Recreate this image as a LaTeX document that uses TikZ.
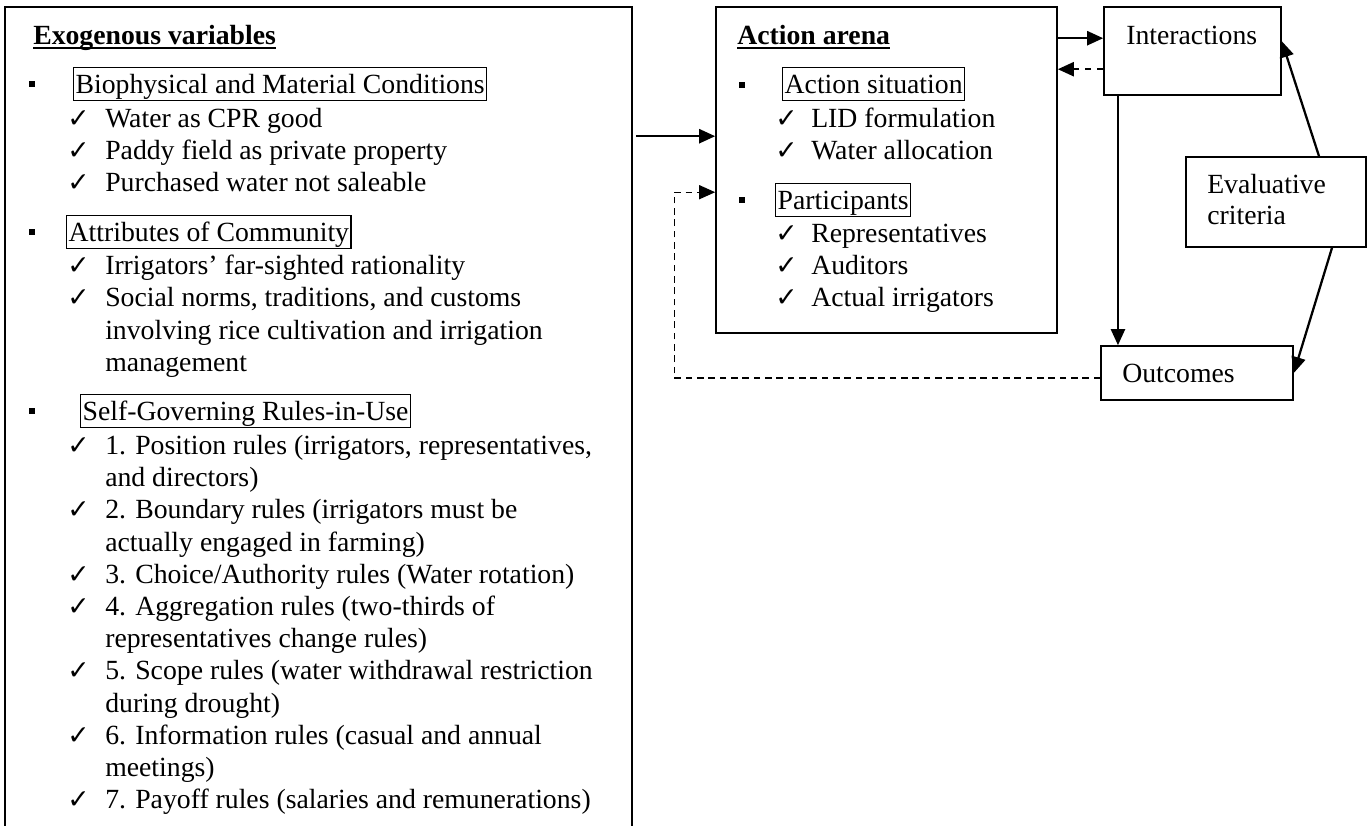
\documentclass[tikz,border=0pt]{standalone}
\usepackage{fontspec}
\setmainfont{Liberation Serif}
\newfontfamily\dvfont{DejaVu Sans}
\usetikzlibrary{arrows.meta}
\begin{document}
\begin{tikzpicture}[x=0.75pt,y=-0.75pt,
  txt/.style={font=\fontsize{20.8pt}{25pt}\selectfont, anchor=base west, inner sep=0pt},
  hd/.style={txt, font=\fontsize{20.8pt}{25pt}\selectfont\bfseries},
  sub/.style={txt, draw, line width=1pt, inner xsep=1.5pt, inner ysep=0pt, text height=19pt, text depth=5.5pt},
  chk/.style={font=\dvfont\fontsize{20pt}{22pt}\selectfont, anchor=base west, inner sep=0pt},
  bul/.style={fill, inner sep=0pt, minimum size=3.8pt},
  box/.style={draw, line width=1.2pt, inner sep=0pt},
  uline/.style={line width=1.4pt},
  arr/.style={line width=1.7pt, -{Triangle[length=12pt,width=10.5pt]}},
  darr/.style={line width=1.7pt, dash pattern=on 5pt off 4pt, -{Triangle[length=12pt,width=10.5pt]}},
  fb/.style={line width=1pt, dash pattern=on 5pt off 3.5pt, -{Triangle[length=12pt,width=10.5pt]}}]
\useasboundingbox (0,0) rectangle (1367,825);

% ---------- main boxes ----------
\node[box, minimum width=470.25pt, minimum height=621pt] (exo) at (318.5,421) {};
\node[box, minimum width=255.75pt, minimum height=244.5pt] (arena) at (886.5,170) {};
\node[box, minimum width=132.75pt, minimum height=66pt] (inter) at (1192.5,51) {};
\node[box, minimum width=135pt, minimum height=67.5pt] (eval) at (1276,202) {};
\node[box, minimum width=144pt, minimum height=40.5pt] (outc) at (1197,373) {};

% ---------- exogenous variables ----------
\node[hd] (exoh) at (33,44) {Exogenous variables};
\draw[uline] ([yshift=-3pt]exoh.base west) -- ([yshift=-3pt]exoh.base east);

\node[bul] (b1) at (32,84) {};
\node[sub] (s1) at (73,93) {Biophysical and Material Conditions};
\node[chk] (c11) at (67,127) {✓};
\node[txt] (t11) at (105,127) {Water as CPR good};
\node[chk] (c12) at (67,159) {✓};
\node[txt] (t12) at (105,159) {Paddy field as private property};
\node[chk] (c13) at (67,191) {✓};
\node[txt] (t13) at (105,191) {Purchased water not saleable};

\node[bul] (b2) at (32,232) {};
\node[sub] (s2) at (66,241) {Attributes of Community};
\node[chk] (c21) at (67,274) {✓};
\node[txt] (t21) at (105,274) {Irrigators’ far-sighted rationality};
\node[chk] (c22) at (67,306) {✓};
\node[txt] (t22) at (105,306) {Social norms, traditions, and customs};
\node[txt] (t22b) at (105,339) {involving rice cultivation and irrigation};
\node[txt] (t22c) at (105,371) {management};

\node[bul] (b3) at (32,411) {};
\node[sub] (s3) at (80,420) {Self-Governing Rules-in-Use};
\node[chk] (c31) at (67,454) {✓};
\node[txt] (t31) at (105,454) {1. Position rules (irrigators, representatives,};
\node[txt] (t31b) at (105,486) {and directors)};
\node[chk] (c32) at (67,518) {✓};
\node[txt] (t32) at (105,518) {2. Boundary rules (irrigators must be};
\node[txt] (t32b) at (105,551) {actually engaged in farming)};
\node[chk] (c33) at (67,583) {✓};
\node[txt] (t33) at (105,583) {3. Choice/Authority rules (Water rotation)};
\node[chk] (c34) at (67,615) {✓};
\node[txt] (t34) at (105,615) {4. Aggregation rules (two-thirds of};
\node[txt] (t34b) at (105,647) {representatives change rules)};
\node[chk] (c35) at (67,679) {✓};
\node[txt] (t35) at (105,679) {5. Scope rules (water withdrawal restriction};
\node[txt] (t35b) at (105,712) {during drought)};
\node[chk] (c36) at (67,744) {✓};
\node[txt] (t36) at (105,744) {6. Information rules (casual and annual};
\node[txt] (t36b) at (105,776) {meetings)};
\node[chk] (c37) at (67,808) {✓};
\node[txt] (t37) at (105,808) {7. Payoff rules (salaries and remunerations)};

% ---------- action arena ----------
\node[hd] (arh) at (737,44) {Action arena};
\draw[uline] ([yshift=-3pt]arh.base west) -- ([yshift=-3pt]arh.base east);

\node[bul] (b4) at (742,85) {};
\node[sub] (s4) at (782,93) {Action situation};
\node[chk] (c41) at (775,127) {✓};
\node[txt] (t41) at (811,127) {LID formulation};
\node[chk] (c42) at (775,159) {✓};
\node[txt] (t42) at (811,159) {Water allocation};

\node[bul] (b5) at (742,200) {};
\node[sub] (s5) at (775,209) {Participants};
\node[chk] (c51) at (775,242) {✓};
\node[txt] (t51) at (811,242) {Representatives};
\node[chk] (c52) at (775,274) {✓};
\node[txt] (t52) at (811,274) {Auditors};
\node[chk] (c53) at (775,306) {✓};
\node[txt] (t53) at (811,306) {Actual irrigators};

% ---------- right-hand labels ----------
\node[txt] (tint) at (1126,44) {Interactions};
\node[txt] (tev1) at (1207,193) {Evaluative};
\node[txt] (tev2) at (1207,224) {criteria};
\node[txt] (tout) at (1122,382) {Outcomes};

% ---------- connectors ----------
\coordinate (A) at ([yshift=-97.5pt]arena.north west);
\draw[arr, shorten <=2.25pt] (exo.east |- A) -- (A);

\coordinate (B) at ([yshift=-139.5pt]arena.north west);
\draw[fb] ([yshift=-3.75pt]outc.west) -| ([xshift=-30.75pt]B) -- (B);

\coordinate (C) at ([yshift=-24pt]arena.north east);
\draw[arr] (C) -- (C -| inter.west);

\coordinate (D) at ([yshift=-47.25pt]inter.north west);
\draw[darr] (D) -- (D -| arena.east);

\coordinate (E) at ([xshift=-55.9pt]inter.south);
\draw[arr] (E) -- (E |- outc.north);

\draw[arr] ([xshift=32.25pt]eval.north) -- ([yshift=-26.25pt]inter.north east);
\draw[arr] ([xshift=42pt]eval.south) -- (outc.east);
\end{tikzpicture}
\end{document}
